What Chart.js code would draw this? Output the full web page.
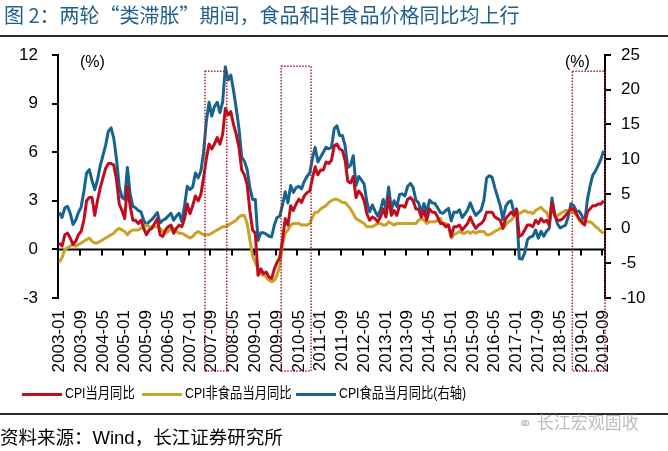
<!DOCTYPE html>
<html>
<head>
<meta charset="utf-8">
<script src="https://cdn.jsdelivr.net/npm/chart.js@4.4.1/dist/chart.umd.min.js"></script>
<style>
  body { margin: 0; background: #fff; }
  #wrap { position: relative; width: 668px; height: 451px; overflow: hidden;
          font-family: "Liberation Sans", "Noto Sans CJK SC", sans-serif; }
  #chart { position: absolute; left: 0; top: 0; }
  .title { position: absolute; left: 4px; top: 0px; font-family: "Noto Sans CJK SC", sans-serif;
           font-size: 20px; color: #1f5f8c; white-space: nowrap; }
  .rule { position: absolute; left: 0; width: 668px; height: 2px; background: #2b2b2b; }
  .unit { position: absolute; top: 53px; font-size: 16px; color: #000; }
  .legend { position: absolute; top: 383px; left: 0; width: 668px; height: 22px; }
  .item { position: absolute; top: 0; white-space: nowrap; font-size: 15px; line-height: 20px; }
  .item .line { display: inline-block; width: 40px; height: 3px; vertical-align: middle; margin-right: 3px; }
  .item .txt { display: inline-block; transform: scaleX(0.82); transform-origin: left center; }
  .source { position: absolute; left: 0; top: 423px; font-size: 18.5px; white-space: nowrap; }
  .mark { position: absolute; left: 518px; top: 409px; font-size: 17px; color: #bdbdbd; white-space: nowrap; }
</style>
</head>
<body>
<div id="wrap">
  <canvas id="chart" width="668" height="451"></canvas>
  <div class="title">图 2：两轮“类滞胀”期间，食品和非食品价格同比均上行</div>
  <div class="rule" style="top:35px"></div>
  <div class="unit" style="left:80px">(%)</div>
  <div class="unit" style="left:565px">(%)</div>
  <div class="legend" id="legend"></div>
  <div class="rule" style="top:413px"></div>
  <div class="mark">&#9901; 长江宏观固收</div>
  <div class="source">资料来源：Wind，长江证券研究所</div>
</div>
<script>
// monthly, 2003-01 .. 2019-09
const firstYear = 2003;
const lastYear = 2019;
const lastMonth = 9;

const months = [];
for (let y = firstYear; y <= lastYear; y++) {
  for (let m = 1; m <= 12; m++) {
    if (y === lastYear && m > lastMonth) break;
    months.push(y + "-" + (m < 10 ? "0" + m : m));
  }
}

// CPI当月同比 (%)
const cpi = [
  0.4, 0.2, 0.9, 1.0, 0.7, 0.3, 0.5, 0.9, 1.1, 1.8, 3.0, 3.2,
  3.2, 2.1, 3.0, 3.8, 4.4, 5.0, 5.3, 5.3, 5.2, 4.3, 2.8, 2.4,
  1.9, 3.9, 2.7, 1.8, 1.8, 1.6, 1.8, 1.3, 0.9, 1.2, 1.3, 1.6,
  1.9, 0.9, 0.8, 1.2, 1.4, 1.5, 1.0, 1.3, 1.5, 1.4, 1.9, 2.8,
  2.2, 2.7, 3.3, 3.0, 3.4, 4.4, 5.6, 6.5, 6.2, 6.5, 6.9, 6.5,
  7.1, 8.7, 8.3, 8.5, 7.7, 7.1, 6.3, 4.9, 4.6, 4.0, 2.4, 1.2,
  1.0, -1.6, -1.2, -1.5, -1.4, -1.7, -1.8, -1.2, -0.8, -0.5, 0.6, 1.9,
  1.5, 2.7, 2.4, 2.8, 3.1, 2.9, 3.3, 3.5, 3.6, 4.4, 5.1, 4.6,
  4.9, 4.9, 5.4, 5.3, 5.5, 6.4, 6.5, 6.2, 6.1, 5.5, 4.2, 4.1,
  4.5, 3.2, 3.6, 3.4, 3.0, 2.2, 1.8, 2.0, 1.9, 1.7, 2.0, 2.5,
  2.0, 3.2, 2.1, 2.4, 2.1, 2.7, 2.7, 2.6, 3.1, 3.2, 3.0, 2.5,
  2.5, 2.0, 2.4, 1.8, 2.5, 2.3, 2.3, 2.0, 1.6, 1.6, 1.4, 1.5,
  0.8, 1.4, 1.4, 1.5, 1.2, 1.4, 1.6, 2.0, 1.6, 1.3, 1.5, 1.6,
  1.8, 2.3, 2.3, 2.3, 2.0, 1.9, 1.8, 1.3, 1.9, 2.1, 2.3, 2.1,
  2.5, 0.8, 0.9, 1.2, 1.5, 1.5, 1.4, 1.8, 1.6, 1.9, 1.7, 1.8,
  1.5, 2.9, 2.1, 1.8, 1.8, 1.9, 2.1, 2.3, 2.5, 2.5, 2.2, 1.9,
  1.7, 1.5, 2.3, 2.5, 2.7, 2.7, 2.8, 2.8, 3.0
];

// CPI非食品当月同比 (%)
const nonFood = [
  -0.8, -0.5, 0.0, 0.1, 0.2, 0.3, 0.2, 0.3, 0.4, 0.5, 0.6, 0.7,
  0.5, 0.4, 0.4, 0.5, 0.6, 0.7, 0.8, 0.9, 1.0, 1.2, 1.3, 1.2,
  1.1, 0.9, 1.1, 1.2, 1.2, 1.2, 1.3, 1.4, 1.5, 1.4, 1.4, 1.4,
  1.4, 1.3, 1.1, 1.0, 1.1, 1.3, 1.3, 1.1, 1.0, 1.0, 0.9, 0.8,
  0.7, 0.8, 1.0, 1.1, 1.0, 0.9, 0.9, 0.9, 1.0, 1.1, 1.2, 1.3,
  1.4, 1.4, 1.5, 1.6, 1.7, 1.8, 2.0, 2.1, 2.1, 1.6, 0.6, -0.4,
  -0.8, -1.2, -1.5, -1.6, -1.7, -1.9, -2.0, -1.9, -1.6, -1.0, 0.3, 1.0,
  1.2, 1.5, 1.6, 1.6, 1.6, 1.5, 1.5, 1.5, 1.6, 2.0, 2.3, 2.3,
  2.5, 2.6, 2.7, 2.9, 3.0, 3.1, 3.1, 3.0, 2.9, 2.9, 2.7, 2.5,
  2.2, 1.9, 1.8, 1.7, 1.6, 1.4, 1.4, 1.4, 1.5, 1.6, 1.6, 1.5,
  1.5, 1.7, 1.6, 1.5, 1.6, 1.6, 1.6, 1.6, 1.6, 1.6, 1.6, 1.6,
  1.8, 1.9, 1.8, 1.6, 1.7, 1.7, 1.7, 1.8, 1.9, 1.6, 1.6, 1.5,
  0.7, 0.9, 1.0, 1.1, 1.0, 1.0, 1.1, 1.0, 1.1, 1.0, 1.1, 1.1,
  1.1, 0.9, 0.9, 1.0, 1.1, 1.2, 1.3, 1.3, 1.5, 1.7, 1.8, 2.0,
  2.4, 2.2, 2.3, 2.4, 2.3, 2.3, 2.2, 2.4, 2.5, 2.6, 2.4, 2.3,
  1.9, 2.5, 2.1, 2.1, 2.2, 2.3, 2.4, 2.4, 2.3, 2.3, 2.1, 1.8,
  1.6, 1.8, 1.7, 1.7, 1.6, 1.4, 1.3, 1.1, 1.0
];

// CPI食品当月同比 (%, 右轴)
const food = [
  2.3, 1.6, 3.0, 3.2, 2.2, 0.6, 1.2, 2.3, 3.1, 5.3, 8.0, 8.5,
  6.9, 5.6, 7.0, 9.0, 10.5, 12.0, 14.0, 14.5, 13.0, 10.0, 6.0, 4.5,
  4.2, 8.8, 5.0, 3.2, 3.0, 2.6, 2.4, 1.2, 0.5, 1.0, 1.3, 1.8,
  2.3, 0.8, 1.2, 1.4, 1.8, 2.2, 1.2, 1.8, 2.2, 1.0, 3.3, 6.1,
  5.6, 6.0, 8.0, 7.3, 8.3, 11.0, 15.4, 18.2, 16.2, 17.6, 18.2, 16.7,
  18.2, 23.3, 21.4, 22.1, 19.9, 17.3, 14.4, 10.3, 9.7, 8.5, 5.9, 4.2,
  4.2, -1.7, -0.6, -0.6, -0.8, -1.1, -1.2, 0.5, 1.6, 1.8, 3.4, 5.3,
  3.7, 6.2, 5.2, 5.9, 6.1, 5.7, 6.8, 7.5, 8.0, 10.1, 11.7, 9.6,
  10.3, 11.0, 11.7, 11.5, 11.7, 14.4, 14.8, 13.4, 13.4, 11.9, 8.8, 9.1,
  10.5, 6.2, 7.5, 7.0, 6.4, 3.8, 2.4, 3.4, 2.5, 1.8, 2.7, 4.2,
  2.9, 6.0, 2.7, 4.0, 3.2, 4.9, 5.0, 4.7, 6.1, 6.5, 5.9, 4.1,
  3.7, 2.4, 3.6, 2.3, 4.1, 3.7, 3.6, 3.0, 2.3, 2.2, 2.6, 2.9,
  1.1, 2.4, 2.3, 2.7, 1.6, 2.1, 2.7, 3.7, 2.7, 1.9, 2.3, 2.7,
  4.1, 7.3, 7.6, 7.4, 5.9, 4.6, 3.3, 1.3, 3.2, 3.8, 4.0, 2.4,
  2.7, -4.3, -4.4, -3.5, -1.6, -1.2, -1.1, -0.2, -1.4, -0.4, -1.1, -0.4,
  0.0, 4.4, 2.1, 0.7, 0.1, 0.3, 0.5, 1.7, 3.6, 3.3, 2.5, 2.5,
  1.9, 0.7, 4.1, 6.1, 7.7, 8.3, 9.1, 10.0, 11.2
];

const seriesNames = ["CPI当月同比", "CPI非食品当月同比", "CPI食品当月同比(右轴)"];
const seriesColors = ["#c00d1e", "#c9a227", "#17638f"];

const labelEvery = 8;
const leftMin = -3, leftMax = 12, leftStep = 3;
const rightMin = -10, rightMax = 25, rightStep = 5;

// the two "stagflation" windows plus the latest one (start month, end month)
const boxes = [["2007-07", "2008-02"], ["2009-11", "2010-09"], ["2018-10", "2019-09"]];

const tickFont = { family: "Liberation Sans", size: 17 };

const frame = {
  id: "frame",
  beforeDatasetsDraw(chart) {
    const ctx = chart.ctx, x = chart.scales.x, y = chart.scales.y;
    const y0 = y.getPixelForValue(0);
    ctx.save();
    ctx.strokeStyle = "#000";
    ctx.lineWidth = 2;
    ctx.beginPath();
    ctx.moveTo(chart.chartArea.left, y0);
    ctx.lineTo(chart.chartArea.right, y0);
    for (let i = labelEvery; i < months.length; i += labelEvery) {
      const px = Math.round(x.getPixelForValue(i - 0.5));
      ctx.moveTo(px, y0);
      ctx.lineTo(px, y0 + 6);
    }
    ctx.stroke();
    ctx.restore();
  },
  afterDraw(chart) {
    const ctx = chart.ctx, x = chart.scales.x, y = chart.scales.y;
    ctx.save();
    ctx.strokeStyle = "#b0202a";
    ctx.lineWidth = 1.5;
    ctx.setLineDash([1.5, 1.5]);
    boxes.forEach((b, k) => {
      const x1 = x.getPixelForValue(months.indexOf(b[0]) - 0.5);
      const x2 = x.getPixelForValue(months.indexOf(b[1]) + 0.5);
      const top = y.getPixelForValue(k === 1 ? 11.3 : 11.0);
      const bottom = x.bottom - 7;
      ctx.strokeRect(x1, top, x2 - x1, bottom - top);
    });
    ctx.restore();
  }
};

new Chart("chart", {
  type: "line",
  data: {
    labels: months,
    datasets: [
      { label: seriesNames[0], data: cpi, yAxisID: "y", borderColor: seriesColors[0] },
      { label: seriesNames[1], data: nonFood, yAxisID: "y", borderColor: seriesColors[1] },
      { label: seriesNames[2], data: food, yAxisID: "y2", borderColor: seriesColors[2] }
    ]
  },
  options: {
    responsive: false,
    animation: false,
    layout: { padding: { top: 55, bottom: 73, left: 0, right: 0 } },
    elements: {
      point: { radius: 0 },
      line: { borderWidth: 3, tension: 0, fill: false, borderJoinStyle: "round" }
    },
    plugins: { legend: { display: false }, tooltip: { enabled: false } },
    scales: {
      x: {
        type: "category",
        offset: true,
        grid: { display: false, drawTicks: false },
        border: { display: false },
        afterFit: s => { s.height = 80; },
        ticks: {
          autoSkip: false, maxRotation: 90, minRotation: 90, padding: 12,
          color: "#000", font: tickFont,
          callback: (v, i) => (i % labelEvery === 0 ? months[i] : null)
        }
      },
      y: {
        position: "left",
        min: leftMin, max: leftMax,
        afterFit: s => { s.width = 58; },
        border: { display: true, color: "#000", width: 2 },
        grid: { drawOnChartArea: false, drawTicks: true, tickLength: 6, color: "#000", lineWidth: 2 },
        ticks: { stepSize: leftStep, padding: 14, color: "#000", font: tickFont }
      },
      y2: {
        position: "right",
        min: rightMin, max: rightMax,
        afterFit: s => { s.width = 63; },
        border: { display: true, color: "#000", width: 2 },
        grid: { drawOnChartArea: false, drawTicks: true, tickLength: 6, color: "#000", lineWidth: 2 },
        ticks: { stepSize: rightStep, padding: 10, color: "#000", font: tickFont }
      }
    }
  },
  plugins: [frame]
});

// legend as page text, built from the series
const legendLefts = [22, 142, 296];
const legend = document.getElementById("legend");
seriesNames.forEach((name, i) => {
  const item = document.createElement("div");
  item.className = "item";
  item.style.left = legendLefts[i] + "px";
  item.innerHTML = '<span class="line" style="background:' + seriesColors[i] + '"></span>' +
    '<span class="txt">' + name + '</span>';
  legend.appendChild(item);
});
</script>
</body>
</html>
